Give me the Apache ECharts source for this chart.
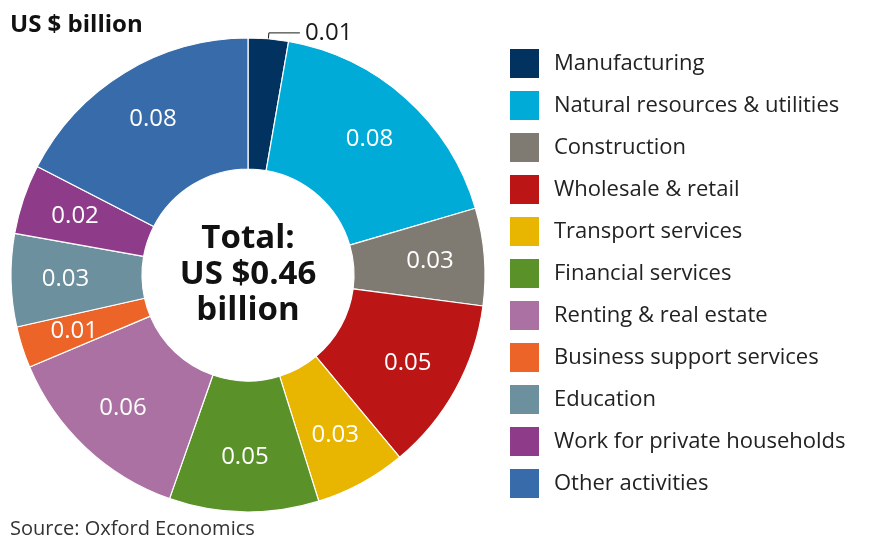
<!DOCTYPE html>
<html>
<head>
<meta charset="utf-8">
<script src="https://cdn.jsdelivr.net/npm/echarts@6/dist/echarts.min.js"></script>
<style>
  html, body { margin: 0; padding: 0; background: #fff; }
  #chart { width: 869px; height: 543px; }
</style>
</head>
<body>
<div id="chart"></div>
<script>
// Sector contributions, US $ billion
const sectors = [
  'Manufacturing',
  'Natural resources & utilities',
  'Construction',
  'Wholesale & retail',
  'Transport services',
  'Financial services',
  'Renting & real estate',
  'Business support services',
  'Education',
  'Work for private households',
  'Other activities'
];
const values = [0.0126, 0.0815, 0.0305, 0.0546, 0.0286, 0.0469, 0.0611, 0.0130, 0.0291, 0.0219, 0.0802];
const colors = ['#02325f', '#00abd8', '#7f7b73', '#bc1515', '#e8b500', '#5a9128', '#aa71a2', '#ec6428', '#6c909e', '#8e3b8a', '#386baa'];

const FONT = '"Open Sans", sans-serif';
const total = values.reduce((a, b) => a + b, 0);

const center = [248, 275];
const radius = [106, 237];

const sliceData = sectors.map((name, i) => ({
  name,
  value: values[i],
  itemStyle: { color: colors[i] }
}));

// label ring: same slices, transparent, labels placed mid-ring
const labelData = sectors.map((name, i) => {
  const item = { name, value: values[i] };
  if (i === 0) {
    item.label = { position: 'outside', color: '#1a1a1a', fontSize: 24, padding: [0, 0, 0, 0] };
    item.labelLine = { show: true, length: 6, length2: 31, lineStyle: { color: '#1a1a1a', width: 1 } };
  }
  return item;
});

const chart = echarts.init(document.getElementById('chart'), null, { renderer: 'canvas' });
chart.setOption({
  animation: false,
  backgroundColor: '#fff',
  graphic: [
    { type: 'text', left: 10, top: 13, style: { text: 'US $ billion', font: 'bold 24px ' + FONT, fill: '#111' } },
    { type: 'text', left: 10, top: 519, style: { text: 'Source: Oxford Economics', font: '20px ' + FONT, fill: '#333' } },
    {
      type: 'text', x: center[0], y: center[1],
      style: {
        text: 'Total:\nUS $' + total.toFixed(2) + '\nbillion',
        font: 'bold 33px ' + FONT, fill: '#111', align: 'center', verticalAlign: 'middle', lineHeight: 36
      }
    }
  ],
  legend: {
    orient: 'vertical',
    left: 508,
    top: 47,
    padding: 0,
    itemWidth: 31,
    itemHeight: 31,
    itemGap: 9,
    icon: 'rect',
    selectedMode: false,
    data: sectors,
    textStyle: { fontFamily: FONT, fontSize: 22, color: '#222', lineHeight: 31, height: 31, padding: [0, 0, 0, 9] }
  },
  series: [
    {
      type: 'pie',
      center, radius,
      startAngle: 90,
      clockwise: true,
      silent: true,
      data: sliceData,
      itemStyle: { borderColor: '#fff', borderWidth: 1.2 },
      label: { show: false },
      labelLine: { show: false }
    },
    {
      type: 'pie',
      center, radius: [122, 237],
      startAngle: 90,
      clockwise: true,
      silent: true,
      data: labelData,
      itemStyle: { color: 'rgba(0,0,0,0)' },
      label: {
        show: true,
        position: 'inside',
        color: '#fff',
        fontFamily: FONT,
        fontSize: 24,
        formatter: p => p.value.toFixed(2)
      },
      labelLine: { show: false }
    }
  ]
});
</script>
</body>
</html>
